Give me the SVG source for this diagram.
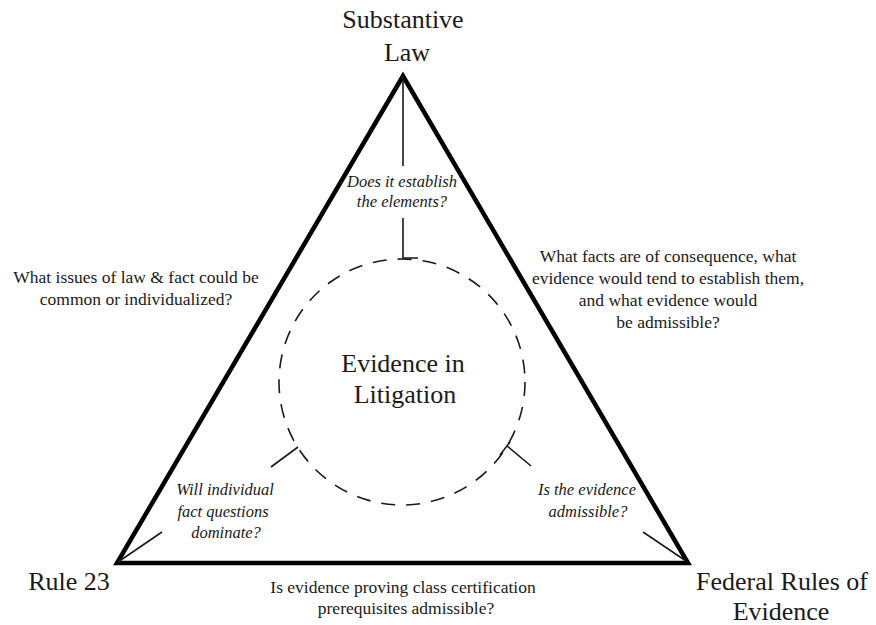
<svg xmlns="http://www.w3.org/2000/svg" width="876" height="625" viewBox="0 0 876 625">
<rect width="876" height="625" fill="#fff"/>
<g id="connectors" stroke="#1a1a1a" stroke-width="1.6" fill="none">
<polygon points="403,76 117,563 688,563" stroke="#000" stroke-width="4.5" stroke-linejoin="miter"/>
<line x1="403" y1="76" x2="403" y2="166"/>
<polyline points="403,218 403,258 418,258"/>
<line x1="298" y1="447" x2="271" y2="467"/>
<line x1="162" y1="532" x2="118" y2="562"/>
<line x1="507" y1="446" x2="531" y2="466"/>
<line x1="500" y1="455" x2="510" y2="442"/>
<line x1="643" y1="532" x2="686" y2="561"/>
</g>
<g id="center" fill="#1a1a1a" text-anchor="middle">
<circle cx="402" cy="382" r="123" fill="none" stroke="#1a1a1a" stroke-width="1.6" stroke-dasharray="14,11"/>
<text font-family="Liberation Serif" font-size="26" x="403" y="372">Evidence in</text>
<text font-family="Liberation Serif" font-size="26" x="405" y="403">Litigation</text>
</g>
<g id="substantive-law" fill="#1a1a1a" text-anchor="middle">
<text font-family="Liberation Serif" font-size="26" x="403" y="28">Substantive</text>
<text font-family="Liberation Serif" font-size="26" x="407" y="61">Law</text>
</g>
<g id="rule23" fill="#1a1a1a" text-anchor="middle">
<text font-family="Liberation Serif" font-size="26" x="69" y="590">Rule 23</text>
</g>
<g id="fre" fill="#1a1a1a" text-anchor="middle">
<text font-family="Liberation Serif" font-size="26" x="782" y="590">Federal Rules of</text>
<text font-family="Liberation Serif" font-size="26" x="781" y="620">Evidence</text>
</g>
<g id="q-top" fill="#1a1a1a" text-anchor="middle">
<text font-family="Liberation Serif" font-size="16.5" font-style="italic" x="402" y="187">Does it establish</text>
<text font-family="Liberation Serif" font-size="16.5" font-style="italic" x="402" y="207">the elements?</text>
</g>
<g id="q-left" fill="#1a1a1a" text-anchor="middle">
<text font-family="Liberation Serif" font-size="17.5" x="136" y="283">What issues of law &amp; fact could be</text>
<text font-family="Liberation Serif" font-size="17.5" x="136" y="305">common or individualized?</text>
</g>
<g id="q-right" fill="#1a1a1a" text-anchor="middle">
<text font-family="Liberation Serif" font-size="17.5" x="668" y="262">What facts are of consequence, what</text>
<text font-family="Liberation Serif" font-size="17.5" x="668" y="284">evidence would tend to establish them,</text>
<text font-family="Liberation Serif" font-size="17.5" x="668" y="306">and what evidence would</text>
<text font-family="Liberation Serif" font-size="17.5" x="668" y="328">be admissible?</text>
</g>
<g id="q-bl" fill="#1a1a1a" text-anchor="middle">
<text font-family="Liberation Serif" font-size="16.5" font-style="italic" x="225" y="495">Will individual</text>
<text font-family="Liberation Serif" font-size="16.5" font-style="italic" x="223" y="516.5">fact questions</text>
<text font-family="Liberation Serif" font-size="16.5" font-style="italic" x="226" y="538">dominate?</text>
</g>
<g id="q-br" fill="#1a1a1a" text-anchor="middle">
<text font-family="Liberation Serif" font-size="16.5" font-style="italic" x="587" y="495">Is the evidence</text>
<text font-family="Liberation Serif" font-size="16.5" font-style="italic" x="588" y="517">admissible?</text>
</g>
<g id="q-bottom" fill="#1a1a1a" text-anchor="middle">
<text font-family="Liberation Serif" font-size="17.5" x="403" y="593">Is evidence proving class certification</text>
<text font-family="Liberation Serif" font-size="17.5" x="406" y="614">prerequisites admissible?</text>
</g>
</svg>
